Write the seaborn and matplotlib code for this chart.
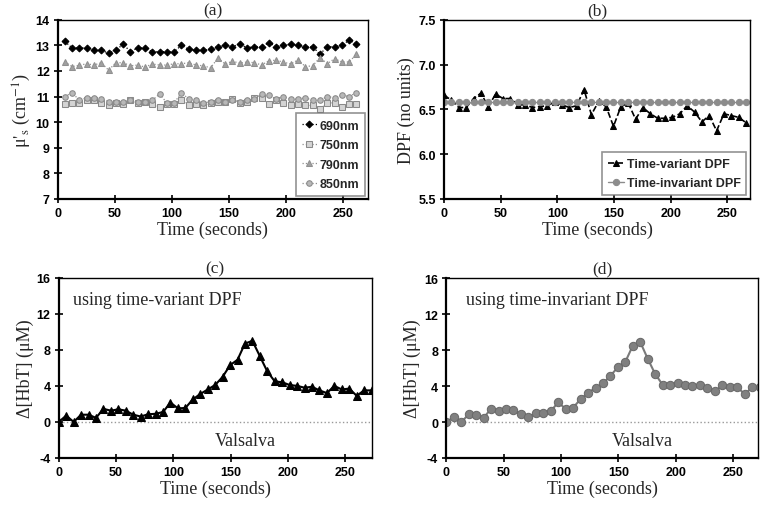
import matplotlib
matplotlib.use("Agg")
import matplotlib.pyplot as plt
import seaborn as sns

# sample times (seconds)
t_a = [6.0, 12.4, 18.8, 25.2, 31.6, 38.0, 44.4, 50.8, 57.2, 63.6, 70.0, 76.4, 82.8, 89.2,
       95.6, 102.0, 108.4, 114.8, 121.2, 127.6, 134.0, 140.4, 146.8, 153.2, 159.6, 166.0,
       172.4, 178.8, 185.2, 191.6, 198.0, 204.4, 210.8, 217.2, 223.6, 230.0, 236.4, 242.8,
       249.2, 255.6, 262.0]
t_b = [0.0, 6.5, 13.0, 19.5, 26.0, 32.5, 39.0, 45.5, 52.0, 58.5, 65.0, 71.5, 78.0, 84.5,
       91.0, 97.5, 104.0, 110.5, 117.0, 123.5, 130.0, 136.5, 143.0, 149.5, 156.0, 162.5,
       169.0, 175.5, 182.0, 188.5, 195.0, 201.5, 208.0, 214.5, 221.0, 227.5, 234.0, 240.5,
       247.0, 253.5, 260.0, 266.5]
t_cd = [0.0, 6.5, 13.0, 19.5, 26.0, 32.5, 39.0, 45.5, 52.0, 58.5, 65.0, 71.5, 78.0, 84.5,
        91.0, 97.5, 104.0, 110.5, 117.0, 123.5, 130.0, 136.5, 143.0, 149.5, 156.0, 162.5,
        169.0, 175.5, 182.0, 188.5, 195.0, 201.5, 208.0, 214.5, 221.0, 227.5, 234.0, 240.5,
        247.0, 253.5, 260.0, 266.5, 273.0]

# (a) reduced scattering coefficient per wavelength
mus_690 = [13.15, 12.9, 12.9, 12.9, 12.8, 12.8, 12.7, 12.8, 13.05, 12.75, 12.9, 12.9, 12.75,
           12.75, 12.75, 12.75, 13.0, 12.85, 12.8, 12.8, 12.85, 12.95, 13.0, 12.95, 13.05,
           12.9, 12.95, 12.95, 13.1, 12.95, 13.0, 13.05, 13.0, 12.95, 12.95, 12.65, 12.95,
           12.95, 13.0, 13.2, 13.05]
mus_750 = [10.7, 10.75, 10.75, 10.85, 10.85, 10.75, 10.65, 10.75, 10.7, 10.85, 10.75, 10.8,
           10.7, 10.6, 10.7, 10.7, 10.85, 10.65, 10.7, 10.65, 10.75, 10.8, 10.8, 10.9, 10.75,
           10.8, 10.95, 10.95, 10.7, 10.85, 10.75, 10.65, 10.7, 10.65, 10.65, 10.5, 10.75,
           10.75, 10.6, 10.7, 10.7]
mus_790 = [12.35, 12.17, 12.22, 12.28, 12.23, 12.32, 12.03, 12.32, 12.32, 12.2, 12.23, 12.15,
           12.27, 12.23, 12.23, 12.28, 12.28, 12.32, 12.23, 12.2, 12.12, 12.5, 12.27, 12.38,
           12.3, 12.35, 12.32, 12.23, 12.4, 12.42, 12.34, 12.27, 12.43, 12.17, 12.2, 12.52,
           12.28, 12.48, 12.35, 12.35, 12.65]
mus_850 = [11.0, 11.15, 10.85, 10.95, 10.95, 10.9, 10.8, 10.8, 10.8, 10.85, 10.8, 10.8, 10.85,
           11.1, 10.75, 10.75, 11.15, 10.9, 10.85, 10.75, 10.8, 10.85, 10.8, 10.85, 10.8,
           10.85, 10.9, 11.1, 11.05, 10.9, 11.0, 10.9, 10.9, 10.95, 10.85, 10.85, 11.0, 10.95,
           11.05, 11.0, 11.15]

# (b) differential pathlength factor
dpf_variant = [6.66, 6.60, 6.52, 6.52, 6.62, 6.68, 6.53, 6.67, 6.62, 6.62, 6.55, 6.55, 6.52,
               6.53, 6.54, 6.58, 6.55, 6.52, 6.54, 6.72, 6.44, 6.59, 6.53, 6.31, 6.53, 6.57,
               6.39, 6.52, 6.45, 6.40, 6.40, 6.41, 6.45, 6.54, 6.47, 6.36, 6.43, 6.26, 6.45,
               6.43, 6.41, 6.35]
dpf_invariant = [6.58] * len(t_b)

# (c), (d) total haemoglobin change
hbt_variant = [0, 0.7, 0, 0.8, 0.8, 0.45, 1.45, 1.25, 1.4, 1.25, 0.8, 0.6, 0.85, 0.9, 1.1,
               2.15, 1.5, 1.55, 2.5, 3.1, 3.6, 4.1, 5.0, 6.3, 6.9, 8.7, 9.0, 7.3, 5.6, 4.5,
               4.4, 4.1, 4.0, 3.8, 3.9, 3.5, 3.2, 4.0, 3.6, 3.7, 2.9, 3.5, 3.5]
hbt_invariant = [0, 0.55, 0, 0.85, 0.8, 0.45, 1.5, 1.25, 1.45, 1.3, 0.85, 0.6, 0.95, 1.05,
                 1.2, 2.2, 1.45, 1.6, 2.55, 3.25, 3.8, 4.3, 5.15, 6.1, 6.7, 8.5, 8.9, 7.05,
                 5.35, 4.15, 4.15, 4.35, 4.1, 4.0, 4.1, 3.8, 3.4, 4.1, 3.9, 3.9, 3.1, 3.85, 3.85]

sns.set_theme(style="white")
plt.rcParams['font.family'] = ['Liberation Sans', 'DejaVu Sans']
plt.rcParams['mathtext.fontset'] = 'stix'
plt.rcParams['axes.unicode_minus'] = False

SERIF = ['Liberation Serif', 'DejaVu Serif']

fig = plt.figure(figsize=(7.63, 5.06), dpi=100)
ax_a = fig.add_axes([0.076, 0.605, 0.406, 0.354])
ax_b = fig.add_axes([0.582, 0.605, 0.401, 0.354])
ax_c = fig.add_axes([0.077, 0.093, 0.410, 0.356])
ax_d = fig.add_axes([0.585, 0.093, 0.409, 0.355])


def style_axes(ax, title, ylabel, ylim, yticks, xlim, fmt=None):
    ax.set_xlim(*xlim)
    ax.set_ylim(*ylim)
    ax.set_xticks([0, 50, 100, 150, 200, 250])
    ax.set_yticks(yticks)
    if fmt:
        ax.set_yticklabels([fmt.format(v) for v in yticks])
    ax.tick_params(direction='inout', length=6, width=1.2, labelsize=9, pad=3,
                   bottom=True, left=True, colors='black')
    for lab in ax.get_xticklabels() + ax.get_yticklabels():
        lab.set_fontweight('bold')
    for side, sp in ax.spines.items():
        sp.set_visible(True)
        sp.set_color('black')
        sp.set_linewidth(1.6 if side in ('left', 'bottom') else 1.0)
    ax.set_title(title, family=SERIF, fontsize=12.5, pad=4)
    ax.set_xlabel('Time (seconds)', family=SERIF, fontsize=13, labelpad=1)
    ax.set_ylabel(ylabel, family=SERIF, fontsize=13, labelpad=2)


# (a)
sns.lineplot(x=t_a, y=mus_690, ax=ax_a, color='black', linestyle=':', linewidth=0.9,
             marker='D', markersize=3.5, markeredgecolor='black', label='690nm')
sns.lineplot(x=t_a, y=mus_750, ax=ax_a, color='#909090', linestyle=':', linewidth=0.9,
             marker='s', markersize=4, markerfacecolor='#d4d4d4', markeredgecolor='#8a8a8a',
             label='750nm')
sns.lineplot(x=t_a, y=mus_790, ax=ax_a, color='#909090', linestyle=':', linewidth=0.9,
             marker='^', markersize=4, markerfacecolor='#a0a0a0', markeredgecolor='#909090',
             label='790nm')
sns.lineplot(x=t_a, y=mus_850, ax=ax_a, color='#909090', linestyle=':', linewidth=0.9,
             marker='o', markersize=4, markerfacecolor='#b8b8b8', markeredgecolor='#8a8a8a',
             label='850nm')
style_axes(ax_a, '(a)', r"μ$'_{\rm s}$ (cm$^{-1}$)", (7, 14), list(range(7, 15)), (0, 272))
leg = ax_a.legend(loc='lower right', bbox_to_anchor=(1.0, 0.0), borderaxespad=0.2,
                  fancybox=False, frameon=True, edgecolor='#777777', handlelength=1.2,
                  handletextpad=0.2, labelspacing=0.6, borderpad=0.5,
                  prop={'weight': 'bold', 'size': 9})
leg.get_frame().set_linewidth(1.2)

# (b)
sns.lineplot(x=t_b, y=dpf_variant, ax=ax_b, color='black', linestyle='--', linewidth=1.2,
             marker='^', markersize=4.5, markeredgecolor='black', label='Time-variant DPF')
sns.lineplot(x=t_b, y=dpf_invariant, ax=ax_b, color='#8c8c8c', linestyle='-', linewidth=1.0,
             marker='o', markersize=4.5, markerfacecolor='#8c8c8c', markeredgecolor='#8c8c8c',
             label='Time-invariant DPF')
style_axes(ax_b, '(b)', 'DPF (no units)', (5.5, 7.5), [5.5, 6.0, 6.5, 7.0, 7.5], (0, 270),
           fmt='{:.1f}')
leg = ax_b.legend(loc='lower right', bbox_to_anchor=(1.0, 0.0), borderaxespad=0.3,
                  fancybox=False, frameon=True, edgecolor='#777777', handlelength=1.3,
                  handletextpad=0.2, labelspacing=0.6, borderpad=0.45,
                  prop={'weight': 'bold', 'size': 9})
leg.get_frame().set_linewidth(1.2)

# (c)
ax_c.axhline(0, color='#999999', linestyle=':', linewidth=1.0)
sns.lineplot(x=t_cd, y=hbt_variant, ax=ax_c, color='black', linewidth=1.5,
             marker='^', markersize=5.5, markeredgecolor='black')
style_axes(ax_c, '(c)', 'Δ[HbT] (μM)', (-4, 16), [-4, 0, 4, 8, 12, 16], (0, 273))
ax_c.text(12, 13.6, 'using time-variant DPF', family=SERIF, fontsize=13, va='center')
ax_c.text(163, -2.1, 'Valsalva', family=SERIF, fontsize=13, ha='center', va='center')

# (d)
ax_d.axhline(0, color='#999999', linestyle=':', linewidth=1.0)
sns.lineplot(x=t_cd, y=hbt_invariant, ax=ax_d, color='#7a7a7a', linewidth=1.5,
             marker='o', markersize=6, markerfacecolor='#808080', markeredgecolor='#6a6a6a')
style_axes(ax_d, '(d)', 'Δ[HbT] (μM)', (-4, 16), [-4, 0, 4, 8, 12, 16], (0, 272))
ax_d.text(17, 13.6, 'using time-invariant DPF', family=SERIF, fontsize=13, va='center')
ax_d.text(171, -2.1, 'Valsalva', family=SERIF, fontsize=13, ha='center', va='center')

fig.savefig('out.png', dpi=100)
